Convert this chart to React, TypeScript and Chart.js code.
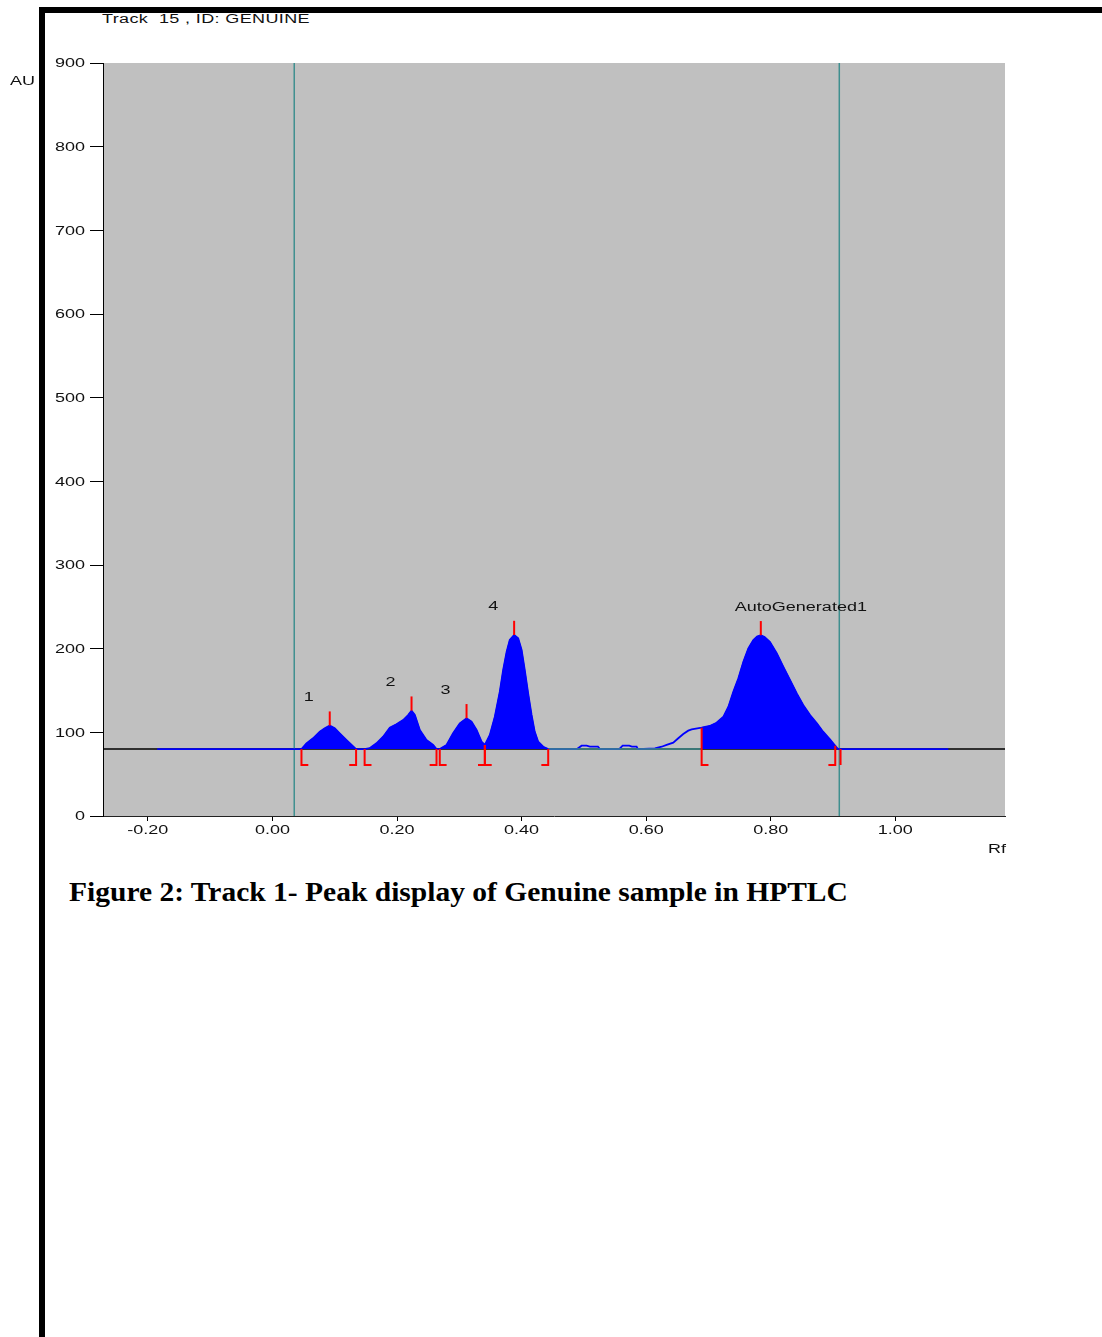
import React, { useEffect, useRef } from 'react';
import { Chart, registerables } from 'chart.js';

Chart.register(...registerables);

// ---- axis / tick definitions ----
const X_TICKS = [-0.2, 0, 0.2, 0.4, 0.6, 0.8, 1.0];
const Y_TICKS = [0, 100, 200, 300, 400, 500, 600, 700, 800, 900];
const X_RANGE = [-0.272, 1.176];
const Y_RANGE = [0, 900];

// ---- track data (Rf, AU) ----
const BASELINE_AU = 80;
const TRACK_LIMITS = [0.035, 0.91];
const SIGNAL_RANGE = [-0.185, 1.085];
const PEAK_NAMES = ['1', '2', '3', '4', 'AutoGenerated1'];

const peak1 = [
  [0.0466, 80], [0.0546, 86.9], [0.0652, 92.9], [0.076, 100.8], [0.084, 104.8],
  [0.092, 108], [0.1, 104.8], [0.108, 98.8], [0.119, 90.8], [0.1343, 80],
];
const peak2 = [
  [0.148, 80], [0.156, 81], [0.167, 86.9], [0.1777, 94.8], [0.1884, 105.5],
  [0.199, 109.6], [0.2098, 114.7], [0.2178, 120.7], [0.2233, 125.9], [0.2286, 120.7],
  [0.2366, 102.8], [0.2473, 90.8], [0.258, 84.9], [0.2634, 80],
];
const peak3 = [
  [0.2686, 80], [0.2795, 84.9], [0.29, 98.8], [0.3008, 110.8], [0.3116, 116.8],
  [0.3196, 112.7], [0.3277, 102.8], [0.3357, 88.8], [0.341, 84.9],
];
const peak4 = [
  [0.341, 84.9], [0.349, 96.8], [0.357, 118.7], [0.365, 148.6], [0.3704, 174.5],
  [0.376, 196.4], [0.381, 210.4], [0.388, 216.3], [0.3945, 212.4], [0.4, 198.4],
  [0.405, 174.5], [0.4105, 146.6], [0.416, 120.7], [0.421, 100.8], [0.4266, 88.8],
  [0.4346, 82.8], [0.4427, 80],
];
const gapSignal = [
  [0.489, 80], [0.4963, 84], [0.5043, 84], [0.5096, 83], [0.5225, 83], [0.5257, 80],
  [0.5567, 80], [0.5622, 84], [0.5728, 84], [0.577, 83], [0.5846, 83], [0.5867, 80],
  [0.614, 80.9], [0.6248, 82.8], [0.6328, 84.9], [0.6434, 87.6], [0.6515, 92.9],
  [0.6595, 98], [0.6675, 102], [0.673, 103.6],
];
const peakAG = [
  [0.689, 105.5], [0.702, 107.6], [0.713, 111.5], [0.724, 118.7], [0.732, 130.6],
  [0.74, 148.6], [0.748, 164.6], [0.756, 184.4], [0.764, 200.4], [0.772, 210.4],
  [0.778, 214.5], [0.784, 216], [0.79, 214], [0.7985, 208.3], [0.8095, 194.5],
  [0.82, 178.5], [0.831, 162.5], [0.8417, 146.6], [0.852, 132.7], [0.863, 120.7],
  [0.874, 110.8], [0.884, 100.8], [0.895, 91.7], [0.9035, 84],
];
const tailSignal = [[0.908, 80]];
const EXTRA_MARKS = [0.912];

const PEAKS = [peak1, peak2, peak3, peak4, peakAG];

// ---- styling constants ----
const BLUE = '#0000ff';
const TEAL = '#3f8f8f';
const RED = '#ff0000';
const PLOT_BG = '#c0c0c0';
const MARK_BOTTOM = 61;
const MARK_FOOT = 0.011;
const APEX_TICK = 17;
const STRETCH = 1.5;
const TEXT_FONT = '12px "Liberation Sans", Arial, sans-serif';
const TEXT_COLOR = '#111111';

const toXY = (pts: number[][]) => pts.map(([x, y]) => ({ x, y }));

const lineDs = (data: any[], color: string, width: number, order: number, extra: any = {}) => ({
  data,
  borderColor: color,
  backgroundColor: color,
  borderWidth: width,
  pointRadius: 0,
  pointHoverRadius: 0,
  fill: false,
  tension: 0,
  order,
  ...extra,
});

function drawStretched(ctx: CanvasRenderingContext2D, text: string, x: number, y: number, align: 'left' | 'center' | 'right') {
  ctx.save();
  ctx.font = TEXT_FONT;
  ctx.fillStyle = TEXT_COLOR;
  ctx.textAlign = 'left';
  ctx.textBaseline = 'middle';
  const w = ctx.measureText(text).width * STRETCH;
  const sx = align === 'right' ? x - w : align === 'center' ? x - w / 2 : x;
  ctx.translate(sx, y);
  ctx.scale(STRETCH, 1);
  ctx.fillText(text, 0, 0);
  ctx.restore();
}

export default function App() {
  const ref = useRef<HTMLCanvasElement>(null);

  useEffect(() => {
    if (!ref.current) return;

    const signal = [
      [SIGNAL_RANGE[0], BASELINE_AU],
      ...peak1, ...peak2, ...peak3, ...peak4.slice(1),
      ...gapSignal, ...peakAG, ...tailSignal,
      [SIGNAL_RANGE[1], BASELINE_AU],
    ];

    const datasets: any[] = [];
    datasets.push(lineDs(toXY([[X_RANGE[0], BASELINE_AU], [X_RANGE[1], BASELINE_AU]]), '#000000', 1.5, 10));
    TRACK_LIMITS.forEach((t) => {
      datasets.push(lineDs(toXY([[t, Y_RANGE[0]], [t, Y_RANGE[1]]]), TEAL, 1.5, 9));
    });
    datasets.push(lineDs(toXY(signal), BLUE, 1.8, 8));
    datasets.push(lineDs(toXY([[peak4[peak4.length - 1][0], BASELINE_AU], [peakAG[0][0], BASELINE_AU]]), TEAL, 1.5, 7));
    PEAKS.forEach((p) => {
      datasets.push(lineDs(toXY(p), BLUE, 1, 5, { fill: { value: BASELINE_AU } }));
    });
    PEAKS.forEach((p) => {
      const [sx, sy] = p[0];
      const [ex, ey] = p[p.length - 1];
      datasets.push(lineDs(toXY([[sx, sy], [sx, MARK_BOTTOM], [sx + MARK_FOOT, MARK_BOTTOM]]), RED, 2, 1));
      datasets.push(lineDs(toXY([[ex, ey], [ex, MARK_BOTTOM], [ex - MARK_FOOT, MARK_BOTTOM]]), RED, 2, 1));
      let apex = p[0];
      p.forEach((pt) => { if (pt[1] > apex[1]) apex = pt; });
      datasets.push(lineDs(toXY([[apex[0], apex[1]], [apex[0], apex[1] + APEX_TICK]]), RED, 2, 1));
    });
    EXTRA_MARKS.forEach((m) => {
      datasets.push(lineDs(toXY([[m, BASELINE_AU], [m, MARK_BOTTOM]]), RED, 2, 1));
    });

    const bgPlugin = {
      id: 'bg',
      beforeDraw(chart: any) {
        const { ctx, chartArea } = chart;
        ctx.save();
        ctx.fillStyle = PLOT_BG;
        ctx.fillRect(chartArea.left, chartArea.top, chartArea.right - chartArea.left, chartArea.bottom - chartArea.top);
        ctx.restore();
      },
    };

    const textPlugin = {
      id: 'texts',
      afterDraw(chart: any) {
        const { ctx, chartArea } = chart;
        const xs = chart.scales.x;
        const ys = chart.scales.y;
        Y_TICKS.forEach((v) => {
          drawStretched(ctx, String(v), chartArea.left - 18, ys.getPixelForValue(v) + 1, 'right');
        });
        X_TICKS.forEach((v) => {
          drawStretched(ctx, v.toFixed(2), xs.getPixelForValue(v), chartArea.bottom + 15, 'center');
        });
        PEAKS.forEach((p, i) => {
          let apex = p[0];
          p.forEach((pt) => { if (pt[1] > apex[1]) apex = pt; });
          const px = xs.getPixelForValue(apex[0]);
          const py = ys.getPixelForValue(apex[1]);
          drawStretched(ctx, PEAK_NAMES[i], px - 26, py - 28, 'left');
        });
      },
    };

    const chart = new Chart(ref.current, {
      type: 'line',
      data: { datasets },
      options: {
        animation: false,
        responsive: false,
        events: [],
        layout: { padding: { top: 63, right: 97, bottom: 24, left: 0 } },
        plugins: { legend: { display: false }, tooltip: { enabled: false } },
        scales: {
          x: {
            type: 'linear',
            min: X_RANGE[0],
            max: X_RANGE[1],
            afterBuildTicks: (s: any) => { s.ticks = X_TICKS.map((v) => ({ value: v })); },
            afterFit: (s: any) => { s.height = 30; },
            grid: { drawOnChartArea: false, drawTicks: true, tickLength: 5, color: '#000', tickColor: '#000' },
            border: { display: true, color: '#222', width: 1 },
            ticks: { display: false, autoSkip: false },
          },
          y: {
            type: 'linear',
            min: Y_RANGE[0],
            max: Y_RANGE[1],
            afterBuildTicks: (s: any) => { s.ticks = Y_TICKS.map((v) => ({ value: v })); },
            afterFit: (s: any) => { s.width = 103; },
            grid: { drawOnChartArea: false, drawTicks: true, tickLength: 13, color: '#000', tickColor: '#000' },
            border: { display: true, color: '#000', width: 1 },
            ticks: { display: false, autoSkip: false },
          },
        },
      },
      plugins: [bgPlugin, textPlugin],
    } as any);

    return () => chart.destroy();
  }, []);

  const smallText: React.CSSProperties = {
    position: 'absolute',
    fontFamily: '"Liberation Sans", Arial, sans-serif',
    fontSize: 12,
    lineHeight: '14px',
    color: TEXT_COLOR,
    whiteSpace: 'pre',
    transform: `scaleX(${STRETCH})`,
    transformOrigin: 'left center',
  };

  return (
    <div style={{ position: 'absolute', left: 0, top: 0, width: 1102, height: 1337, background: '#fff', overflow: 'hidden' }}>
      <div style={{ ...smallText, left: 102, top: 12, letterSpacing: '0.25px' }}>{'Track  15 , ID: GENUINE'}</div>
      <canvas ref={ref} width={1102} height={870} style={{ position: 'absolute', left: 0, top: 0, width: 1102, height: 870 }} />
      <div style={{ ...smallText, left: 10, top: 74 }}>AU</div>
      <div style={{ ...smallText, left: 988, top: 842 }}>Rf</div>
      <div
        style={{
          position: 'absolute',
          left: 69,
          top: 876,
          fontFamily: '"Liberation Serif", "Times New Roman", serif',
          fontWeight: 'bold',
          fontSize: 28,
          lineHeight: '32px',
          color: '#000',
          whiteSpace: 'pre',
          transform: 'scaleX(1.054)',
          transformOrigin: 'left center',
        }}
      >
        Figure 2: Track 1- Peak display of Genuine sample in HPTLC
      </div>
      <div style={{ position: 'absolute', left: 39, top: 7, width: 1063, height: 6, background: '#000' }} />
      <div style={{ position: 'absolute', left: 39, top: 7, width: 6, height: 1330, background: '#000' }} />
    </div>
  );
}
